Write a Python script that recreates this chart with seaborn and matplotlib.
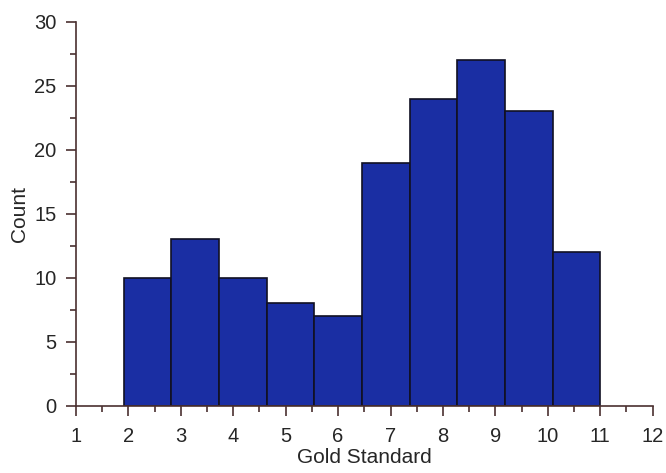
from matplotlib import pyplot as plt
from matplotlib.ticker import MultipleLocator
import seaborn as sns
import numpy as np
import pandas as pd

bin_start = 1.91
bin_end = 11.0
counts = [10, 13, 10, 8, 7, 19, 24, 27, 23, 12]
x_ticks = list(range(1, 13))
y_ticks = [0, 5, 10, 15, 20, 25, 30]


def make_plot():
    sns.set_style('white')
    plt.rcParams['font.family'] = ['Liberation Sans', 'DejaVu Sans']
    edges = np.linspace(bin_start, bin_end, len(counts) + 1)
    centers = (edges[:-1] + edges[1:]) / 2
    data = pd.DataFrame({'Gold Standard': centers, 'Count': counts})

    fig = plt.figure(figsize=(6.66, 4.73), dpi=100)
    ax = fig.add_axes([0.114, 0.142, 0.866, 0.812])
    sns.histplot(data=data, x='Gold Standard', weights='Count',
                 bins=len(counts), binrange=(bin_start, bin_end),
                 color='#1a2ea3', alpha=1, edgecolor='#111122', linewidth=1.2, ax=ax)

    ax.set_xlim(1, 12)
    ax.set_ylim(0, 30)
    ax.set_xticks(x_ticks)
    ax.set_yticks(y_ticks)
    ax.xaxis.set_minor_locator(MultipleLocator(0.5))
    ax.yaxis.set_minor_locator(MultipleLocator(2.5))
    spine_color = '#4a3030'
    for side in ['top', 'right']:
        ax.spines[side].set_visible(False)
    for side in ['left', 'bottom']:
        ax.spines[side].set_color(spine_color)
        ax.spines[side].set_linewidth(1.2)
    ax.tick_params(which='major', direction='out', length=7, width=1.2,
                   color=spine_color, labelsize=14.5, bottom=True, left=True)
    ax.tick_params(axis='x', which='major', pad=8)
    ax.tick_params(axis='y', which='major', pad=7)
    ax.tick_params(which='minor', direction='out', length=4, width=1.2,
                   color=spine_color, bottom=True, left=True)
    ax.set_xlabel('Gold Standard', fontsize=15, labelpad=1.5)
    ax.set_ylabel('Count', fontsize=15, labelpad=4)


def save_plot_as(filename):
    make_plot()
    plt.savefig(filename, dpi=100)
    plt.close()


if __name__ == '__main__':
    save_plot_as('out.png')
